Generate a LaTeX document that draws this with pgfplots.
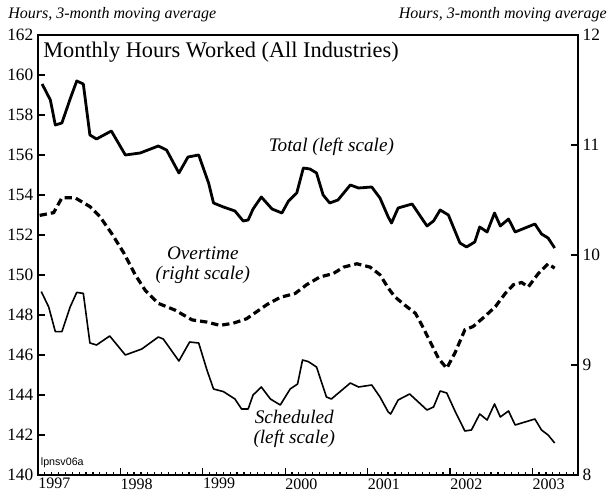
\documentclass[border=0pt]{standalone}
\usepackage{fontspec}
\setmainfont{Liberation Serif}
\newfontfamily\tagfont{Liberation Sans}
\usepackage{pgfplots}
\pgfplotsset{compat=1.18}

% common frame for the left and right scale axes
\pgfplotsset{hrs/.style={
    scale only axis, width=405pt, height=330pt,
    xmin=1997, xmax=2003.553,
    tick align=inside,
    axis line style={line width=1.2pt},
    every tick/.style={black, line width=0.9pt},
    major tick length=5pt, minor tick length=2.5pt,
    yticklabel style={font=\fontsize{13}{15}\selectfont,
        /pgf/number format/assume math mode=true},
}}

\begin{document}
\begin{tikzpicture}
\begin{axis}[hrs,
    ymin=140, ymax=162, ytick={140,142,...,162}, ytick pos=left,
    xtick={1997,1998,1999,2000,2001,2002,2003},
    xticklabels={1997,1998,1999,2000,2001,2002,2003},
    xtick pos=bottom,
    minor xtick={1997,1997.083333,...,2003.55},
    xticklabel style={font=\fontsize{12}{14}\selectfont, anchor=north west,
        inner xsep=0pt, yshift=1pt},
]
% Total (left scale)
\addplot[black, line width=2.1pt, line join=round] coordinates {
(1997.05,159.55) (1997.15,158.75) (1997.21,157.5) (1997.29,157.6)
(1997.39,158.8) (1997.47,159.7) (1997.55,159.55) (1997.63,157.0)
(1997.71,156.8) (1997.89,157.2) (1998.06,156.0) (1998.24,156.1)
(1998.46,156.45) (1998.56,156.25) (1998.71,155.1) (1998.82,155.9)
(1998.95,156.0) (1999.07,154.6) (1999.13,153.6) (1999.25,153.4)
(1999.39,153.2) (1999.49,152.7) (1999.55,152.75) (1999.61,153.3)
(1999.71,153.9) (1999.84,153.3) (1999.96,153.1) (2000.04,153.7)
(2000.14,154.1) (2000.22,155.35) (2000.30,155.3) (2000.38,155.1)
(2000.46,154.0) (2000.54,153.6) (2000.64,153.75) (2000.79,154.5)
(2000.89,154.35) (2001.05,154.4) (2001.15,153.85) (2001.25,152.9)
(2001.29,152.6) (2001.37,153.35) (2001.54,153.55) (2001.72,152.45)
(2001.80,152.7) (2001.88,153.25) (2001.98,153.0) (2002.12,151.6)
(2002.20,151.4) (2002.30,151.65) (2002.36,152.4) (2002.45,152.15)
(2002.54,153.1) (2002.61,152.45) (2002.71,152.8) (2002.79,152.15)
(2003.03,152.55) (2003.11,152.05) (2003.19,151.85) (2003.27,151.35)
};
% Scheduled (left scale)
\addplot[black, line width=1.2pt, line join=round] coordinates {
(1997.04,149.17) (1997.13,148.4) (1997.21,147.17) (1997.29,147.17)
(1997.39,148.4) (1997.47,149.13) (1997.55,149.08) (1997.63,146.6)
(1997.71,146.5) (1997.87,146.95) (1998.06,146.0) (1998.26,146.3)
(1998.46,146.9) (1998.52,146.8) (1998.71,145.7) (1998.84,146.65)
(1998.95,146.6) (1999.05,145.25) (1999.13,144.3) (1999.25,144.17)
(1999.39,143.8) (1999.47,143.3) (1999.55,143.3) (1999.61,144.0)
(1999.71,144.4) (1999.82,143.8) (1999.94,143.5) (2000.06,144.3)
(2000.15,144.55) (2000.21,145.75) (2000.28,145.67) (2000.38,145.4)
(2000.50,143.9) (2000.56,143.8) (2000.79,144.6) (2000.89,144.4)
(2001.05,144.5) (2001.15,143.9) (2001.25,143.15) (2001.28,143.05)
(2001.37,143.75) (2001.51,144.05) (2001.72,143.25) (2001.80,143.4)
(2001.88,144.2) (2001.96,144.1) (2002.06,143.2) (2002.18,142.2)
(2002.26,142.25) (2002.36,143.05) (2002.45,142.75) (2002.54,143.55)
(2002.61,142.9) (2002.71,143.2) (2002.79,142.5) (2003.03,142.8)
(2003.11,142.25) (2003.19,142.0) (2003.27,141.6)
};
\node[font=\fontsize{16.75}{19}\selectfont, anchor=base west, inner sep=0pt]
    at ([shift={(3.75pt,-17.25pt)}]rel axis cs:0,1) {Monthly Hours Worked (All Industries)};
\node[font=\fontsize{14.4}{15}\selectfont\itshape] at (axis cs:2000.56,156.4) {Total (left scale)};
\node[font=\fontsize{14.4}{15}\selectfont\itshape, align=center] at (axis cs:1999.0,150.5)
    {Overtime\\(right scale)};
\node[font=\fontsize{14.4}{15}\selectfont\itshape, align=center] at (axis cs:2000.11,142.3)
    {Scheduled\\(left scale)};
\node[font=\tagfont\fontsize{8}{9}\selectfont, anchor=south west, inner sep=1pt]
    at ([shift={(1pt,4pt)}]rel axis cs:0,0) {lpnsv06a};
\coordinate (bl) at (rel axis cs:0,0);
\coordinate (tl) at (rel axis cs:0,1);
\coordinate (tr) at (rel axis cs:1,1);
\end{axis}

\begin{axis}[hrs,
    ymin=8, ymax=12, ytick={8,9,10,11,12},
    axis y line*=right, axis x line=none,
]
% Overtime (right scale)
\addplot[black, line width=2.4pt, dash pattern=on 5.5pt off 3pt] coordinates {
(1997.02,10.36) (1997.19,10.385) (1997.29,10.52) (1997.45,10.52)
(1997.63,10.44) (1997.75,10.35) (1997.89,10.20) (1998.04,10.02)
(1998.18,9.82) (1998.30,9.68) (1998.46,9.56) (1998.66,9.50)
(1998.87,9.41) (1999.05,9.39) (1999.21,9.36) (1999.37,9.38)
(1999.53,9.42) (1999.78,9.55) (1999.94,9.615) (2000.12,9.65)
(2000.26,9.73) (2000.42,9.80) (2000.58,9.83) (2000.71,9.89)
(2000.87,9.92) (2001.03,9.89) (2001.15,9.82) (2001.25,9.70)
(2001.33,9.62) (2001.45,9.545) (2001.58,9.47) (2001.66,9.36)
(2001.76,9.21) (2001.86,9.06) (2001.96,8.97) (2002.06,9.11)
(2002.18,9.32) (2002.28,9.35) (2002.42,9.44) (2002.55,9.53)
(2002.67,9.65) (2002.77,9.73) (2002.87,9.75) (2002.95,9.71)
(2003.07,9.83) (2003.19,9.92) (2003.27,9.88)
};
\end{axis}

\node[anchor=base west, inner sep=0pt, font=\fontsize{12}{14}\selectfont\itshape]
    at ([shift={(-22.5pt,12pt)}]tl) {Hours, 3-month moving average};
\node[anchor=base east, inner sep=0pt, font=\fontsize{12}{14}\selectfont\itshape]
    at ([shift={(21.75pt,12pt)}]tr) {Hours, 3-month moving average};

\pgfresetboundingbox
\path ([shift={(-28.5pt,-12pt)}]bl) rectangle ([shift={(24pt,26.25pt)}]tr);
\end{tikzpicture}
\end{document}
